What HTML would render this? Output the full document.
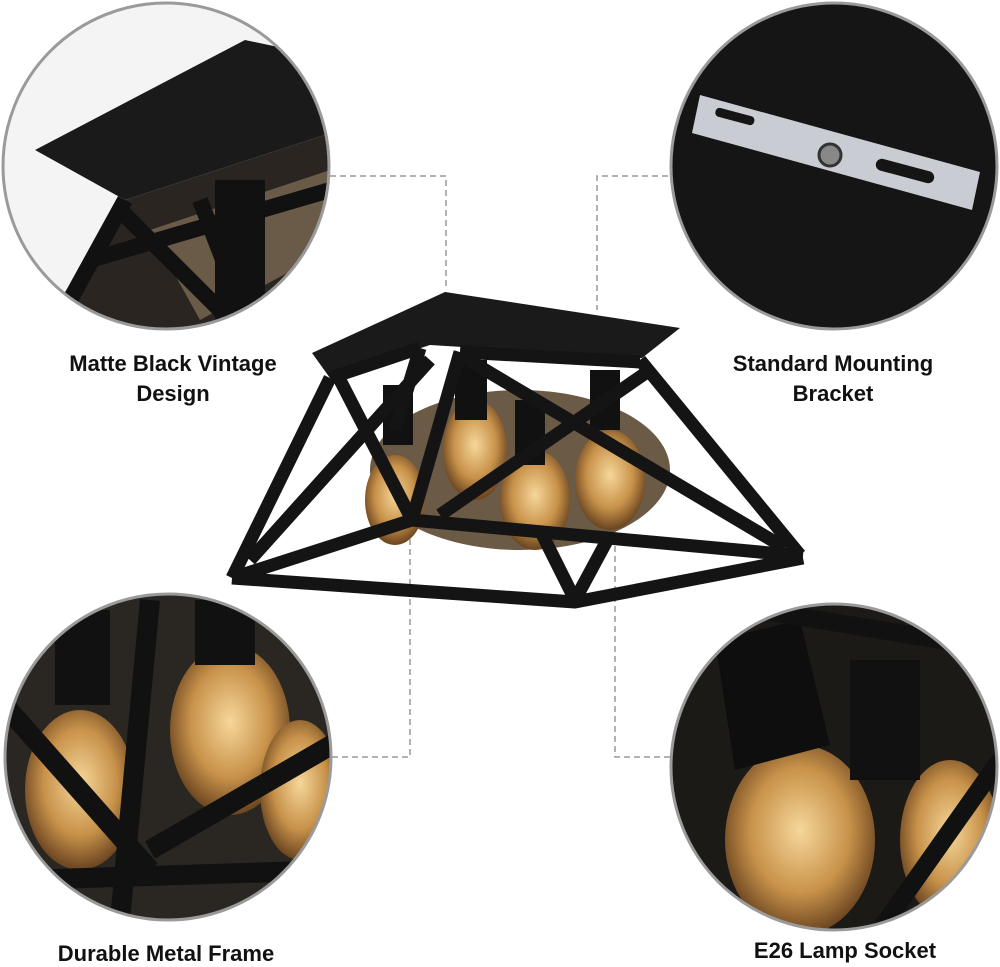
<!DOCTYPE html>
<html><head><meta charset="utf-8"><style>
html,body{margin:0;padding:0;background:#fff}
svg{display:block}
text{font-family:"Liberation Sans",sans-serif;font-size:22px;font-weight:bold;fill:#111;text-anchor:middle}
</style></head><body>
<svg width="1000" height="967" viewBox="0 0 1000 967" xmlns="http://www.w3.org/2000/svg">
<defs>
<clipPath id="c1"><circle cx="166" cy="166" r="163"/></clipPath>
<clipPath id="c2"><circle cx="834" cy="166" r="163"/></clipPath>
<clipPath id="c3"><circle cx="168" cy="757" r="163"/></clipPath>
<clipPath id="c4"><circle cx="834" cy="767" r="163"/></clipPath>
<radialGradient id="bulb" cx="50%" cy="45%" r="55%"><stop offset="0" stop-color="#f6d79a"/><stop offset="0.6" stop-color="#c8924a"/><stop offset="1" stop-color="#6a4420"/></radialGradient>
</defs>
<g clip-path="url(#c1)">
<rect x="0" y="0" width="340" height="340" fill="#f4f4f4"/>
<polygon points="35,150 245,40 340,60 340,130 125,200" fill="#1a1a1a"/>
<polygon points="125,200 340,130 340,340 60,340 60,300" fill="#2a2520"/>
<polygon points="150,230 330,170 330,250 200,320" fill="#6a5a48"/>
<g stroke="#111" stroke-width="16" fill="none">
<line x1="125" y1="200" x2="70" y2="300"/><line x1="120" y1="210" x2="240" y2="330"/>
<line x1="90" y1="260" x2="330" y2="190"/><line x1="200" y1="200" x2="250" y2="330"/>
</g>
<rect x="215" y="180" width="50" height="140" fill="#111"/>
</g>
<circle cx="166" cy="166" r="163" fill="none" stroke="#9a9a9a" stroke-width="3"/>
<g clip-path="url(#c2)">
<rect x="660" y="0" width="350" height="340" fill="#151515"/>
<polygon points="700,95 980,172 972,210 692,133" fill="#c9ccd2"/>
<rect x="875" y="165" width="60" height="12" rx="6" fill="#151515" transform="rotate(15 905 171)"/>
<rect x="715" y="112" width="40" height="9" rx="4" fill="#151515" transform="rotate(15 735 116)"/>
<circle cx="830" cy="155" r="11" fill="#888" stroke="#333" stroke-width="3"/>
</g>
<circle cx="834" cy="166" r="163" fill="none" stroke="#9a9a9a" stroke-width="3"/>
<g clip-path="url(#c3)">
<rect x="0" y="590" width="340" height="340" fill="#2a2722"/>
<ellipse cx="80" cy="790" rx="55" ry="80" fill="url(#bulb)"/>
<ellipse cx="230" cy="730" rx="60" ry="85" fill="url(#bulb)"/>
<ellipse cx="300" cy="790" rx="40" ry="70" fill="url(#bulb)"/>
<rect x="55" y="610" width="55" height="95" fill="#111"/>
<rect x="195" y="600" width="60" height="65" fill="#111"/>
<g stroke="#111" stroke-width="20" fill="none">
<line x1="150" y1="600" x2="120" y2="920"/><line x1="0" y1="700" x2="150" y2="870"/>
<line x1="150" y1="850" x2="340" y2="740"/><line x1="20" y1="880" x2="340" y2="870"/>
</g>
</g>
<circle cx="168" cy="757" r="163" fill="none" stroke="#9a9a9a" stroke-width="3"/>
<g clip-path="url(#c4)">
<rect x="670" y="600" width="340" height="340" fill="#1c1a17"/>
<ellipse cx="800" cy="840" rx="75" ry="95" fill="url(#bulb)"/>
<ellipse cx="950" cy="840" rx="50" ry="80" fill="url(#bulb)"/>
<polygon points="715,640 800,620 830,745 735,770" fill="#0e0e0e"/>
<rect x="850" y="660" width="70" height="120" fill="#111"/>
<g stroke="#111" stroke-width="18" fill="none">
<line x1="760" y1="610" x2="1000" y2="650"/><line x1="880" y1="930" x2="1000" y2="760"/>
</g>
</g>
<circle cx="834" cy="767" r="163" fill="none" stroke="#9a9a9a" stroke-width="3"/>
<g stroke="#999" stroke-width="1.5" stroke-dasharray="6,4" fill="none">
<polyline points="330,176 446,176 446,290"/>
<polyline points="668,176 597,176 597,310"/>
<polyline points="332,757 410,757 410,524"/>
<polyline points="670,757 615,757 615,422"/>
</g>
<ellipse cx="520" cy="470" rx="150" ry="80" fill="#6b5a45"/>
<ellipse cx="395" cy="500" rx="30" ry="45" fill="url(#bulb)"/>
<ellipse cx="475" cy="450" rx="32" ry="50" fill="url(#bulb)"/>
<ellipse cx="535" cy="500" rx="35" ry="50" fill="url(#bulb)"/>
<ellipse cx="610" cy="480" rx="35" ry="50" fill="url(#bulb)"/>
<rect x="383" y="385" width="30" height="60" fill="#111"/>
<rect x="455" y="360" width="32" height="60" fill="#111"/>
<rect x="515" y="400" width="30" height="65" fill="#111"/>
<rect x="590" y="370" width="30" height="60" fill="#111"/>
<polygon points="312,353 445,292 680,328 642,358 430,345 330,378" fill="#1a1a1a"/>
<g stroke="#141414" stroke-width="13" fill="none" stroke-linejoin="round">
<polyline points="232,578 575,602 803,558"/>
<line x1="330" y1="378" x2="232" y2="578"/>
<line x1="420" y1="348" x2="395" y2="430"/>
<line x1="460" y1="352" x2="412" y2="520"/>
<line x1="640" y1="360" x2="800" y2="555"/>
<line x1="460" y1="352" x2="640" y2="362"/>
<line x1="330" y1="378" x2="420" y2="348"/>
<line x1="412" y1="520" x2="803" y2="556"/>
<line x1="412" y1="520" x2="232" y2="578"/>
<line x1="340" y1="380" x2="412" y2="520"/>
<line x1="250" y1="560" x2="430" y2="360"/>
<line x1="460" y1="355" x2="785" y2="548"/>
<line x1="440" y1="515" x2="650" y2="370"/>
<line x1="575" y1="600" x2="540" y2="530"/>
<line x1="575" y1="600" x2="610" y2="535"/>
</g>
<text x="173" y="371">Matte Black Vintage</text>
<text x="173" y="401">Design</text>
<text x="833" y="371">Standard Mounting</text>
<text x="833" y="401">Bracket</text>
<text x="166" y="961">Durable Metal Frame</text>
<text x="845" y="958">E26 Lamp Socket</text>
</svg>
</body></html>
